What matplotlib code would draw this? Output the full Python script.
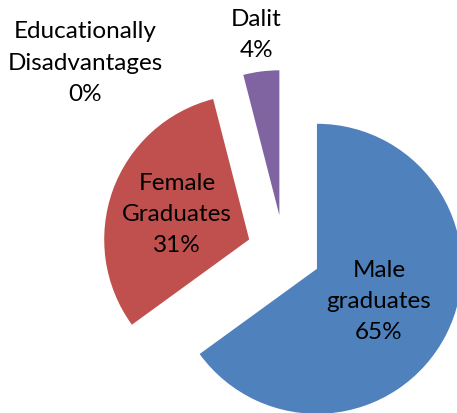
import matplotlib.pyplot as plt
import numpy as np

categories = ["Male\ngraduates", "Female\nGraduates", "Educationally\nDisadvantages", "Dalit"]
shares = [65, 31, 0, 4]
colors = ["#4F81BD", "#C0504D", "#9BBB59", "#8064A2"]

# pixel geometry of the reference image
W, H = 457, 414
cx, cy, R = 284, 253, 145


def main():
    fig = plt.figure(figsize=(W / 100, H / 100), dpi=100)
    ax = fig.add_axes([0, 0, 1, 1])

    wedges, _ = ax.pie(
        shares,
        colors=colors,
        startangle=90,
        counterclock=False,
        explode=[0.255] * len(shares),
        radius=1.0,
        wedgeprops=dict(linewidth=0),
    )

    # labels: inside for the big slices, outside for the small ones
    font = dict(family="Lato", fontsize=17.5, color="black",
                ha="center", va="center", linespacing=1.6)
    dist = [0.48, 0.53, None, 1.26]
    for w, name, val, d in zip(wedges, categories, shares, dist):
        text = f"{name}\n{val}%"
        if d is None:
            # Excel nudged this one to the upper left
            ax.text(-1.37, 1.31, text, **font)
            continue
        mid = np.deg2rad((w.theta1 + w.theta2) / 2)
        x0, y0 = w.center
        ax.text(x0 + d * np.cos(mid), y0 + d * np.sin(mid), text, **font)

    ax.set_xlim(-cx / R, (W - cx) / R)
    ax.set_ylim((cy - H) / R, cy / R)
    ax.set_aspect("auto")
    ax.axis("off")

    fig.savefig("out.png", dpi=100)


if __name__ == "__main__":
    main()
